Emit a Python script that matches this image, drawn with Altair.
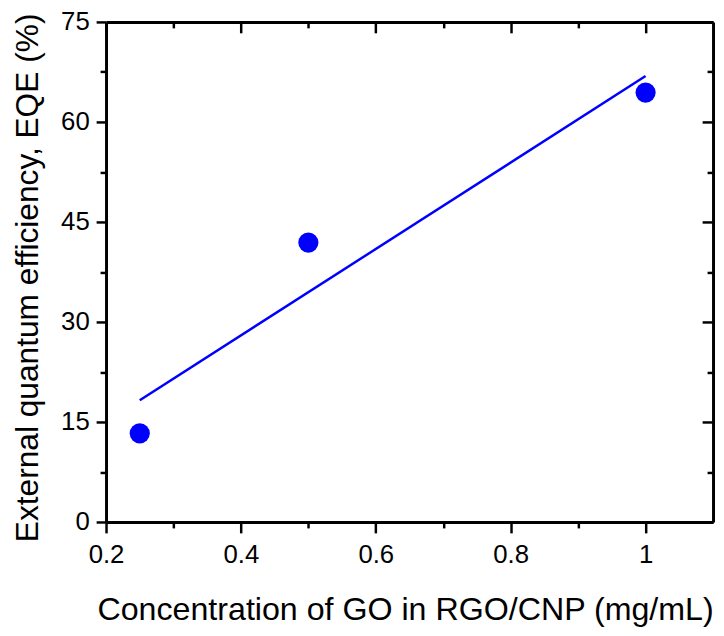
import altair as alt
import pandas as pd

# ---- data ----
conc = [0.25, 0.5, 1.0]          # Concentration of GO (mg/mL)
eqe = [13.3, 41.9, 64.4]         # EQE (%)

x_major = [0.2, 0.4, 0.6, 0.8, 1.0]
x_minor = [0.3, 0.5, 0.7, 0.9]
y_major = [0, 15, 30, 45, 60, 75]
y_minor = [7.5, 22.5, 37.5, 52.5, 67.5]

x_title = "Concentration of GO in RGO/CNP (mg/mL)"
y_title = "External quantum efficiency, EQE (%)"

df = pd.DataFrame({"conc": conc, "eqe": eqe})

W, H = 613, 505
FONT = "Liberation Sans"
BLUE = "#0000FF"

xs = alt.Scale(domain=[0.2, 1.1], nice=False, zero=False)
ys = alt.Scale(domain=[0, 75], nice=False, zero=False)

common = dict(grid=False, domainColor="black", tickColor="black",
              labelColor="black", titleColor="black",
              labelFont=FONT, titleFont=FONT, domainWidth=3, tickWidth=2.5)


def ax(**kw):
    d = dict(common)
    d.update(kw)
    return alt.Axis(**d)


bottom_major = ax(orient="bottom", values=x_major, format="~g", tickSize=11,
                  labelFontSize=26, labelPadding=9, labelFlush=False,
                  labelOverlap=False, titleFontSize=32.5, titleFontWeight="normal",
                  titleX=302, titleY=98, titleBaseline="alphabetic",
                  titleAlign="center")
left_major = ax(orient="left", values=y_major, tickSize=10, labelFontSize=26,
                labelPadding=7, labelFlush=False, labelOverlap=False,
                titleFontSize=32, titleFontWeight="normal", titleAngle=270,
                titleX=-69, titleY=258, titleBaseline="alphabetic",
                titleAlign="center")
bottom_minor = ax(orient="bottom", values=x_minor, tickSize=6, labels=False,
                  domain=False)
left_minor = ax(orient="left", values=y_minor, tickSize=6, labels=False,
                domain=False)
top_major = ax(orient="bottom", offset=-H, values=x_major, tickSize=11,
               labels=False)
top_minor = ax(orient="bottom", offset=-H, values=x_minor, tickSize=6,
               labels=False, domain=False)
right_major = ax(orient="left", offset=-W, values=y_major, tickSize=11,
                 labels=False)
right_minor = ax(orient="left", offset=-W, values=y_minor, tickSize=6,
                 labels=False, domain=False)

base = alt.Chart(df)

points = base.mark_circle(size=415, color=BLUE, opacity=1).encode(
    x=alt.X("conc:Q", scale=xs, axis=bottom_major, title=x_title),
    y=alt.Y("eqe:Q", scale=ys, axis=left_major, title=y_title),
)

fit = base.transform_regression("conc", "eqe").mark_line(
    color=BLUE, strokeWidth=2.5).encode(
    x=alt.X("conc:Q", scale=xs, axis=bottom_minor, title=None),
    y=alt.Y("eqe:Q", scale=ys, axis=left_minor, title=None),
)

frame_major = base.mark_circle(opacity=0).encode(
    x=alt.X("conc:Q", scale=xs, axis=top_major, title=None),
    y=alt.Y("eqe:Q", scale=ys, axis=right_major, title=None),
)

frame_minor = base.mark_circle(opacity=0).encode(
    x=alt.X("conc:Q", scale=xs, axis=top_minor, title=None),
    y=alt.Y("eqe:Q", scale=ys, axis=right_minor, title=None),
)

chart = alt.layer(fit, points, frame_major, frame_minor).resolve_axis(
    x="independent", y="independent"
).properties(
    width=W, height=H,
    autosize=alt.AutoSizeParams(type="none"),
    padding={"left": 99, "top": 11, "right": 3, "bottom": 104},
    background="white",
).configure_view(strokeWidth=0)

chart.save("out.html", embed_options={"renderer": "svg", "actions": False})
